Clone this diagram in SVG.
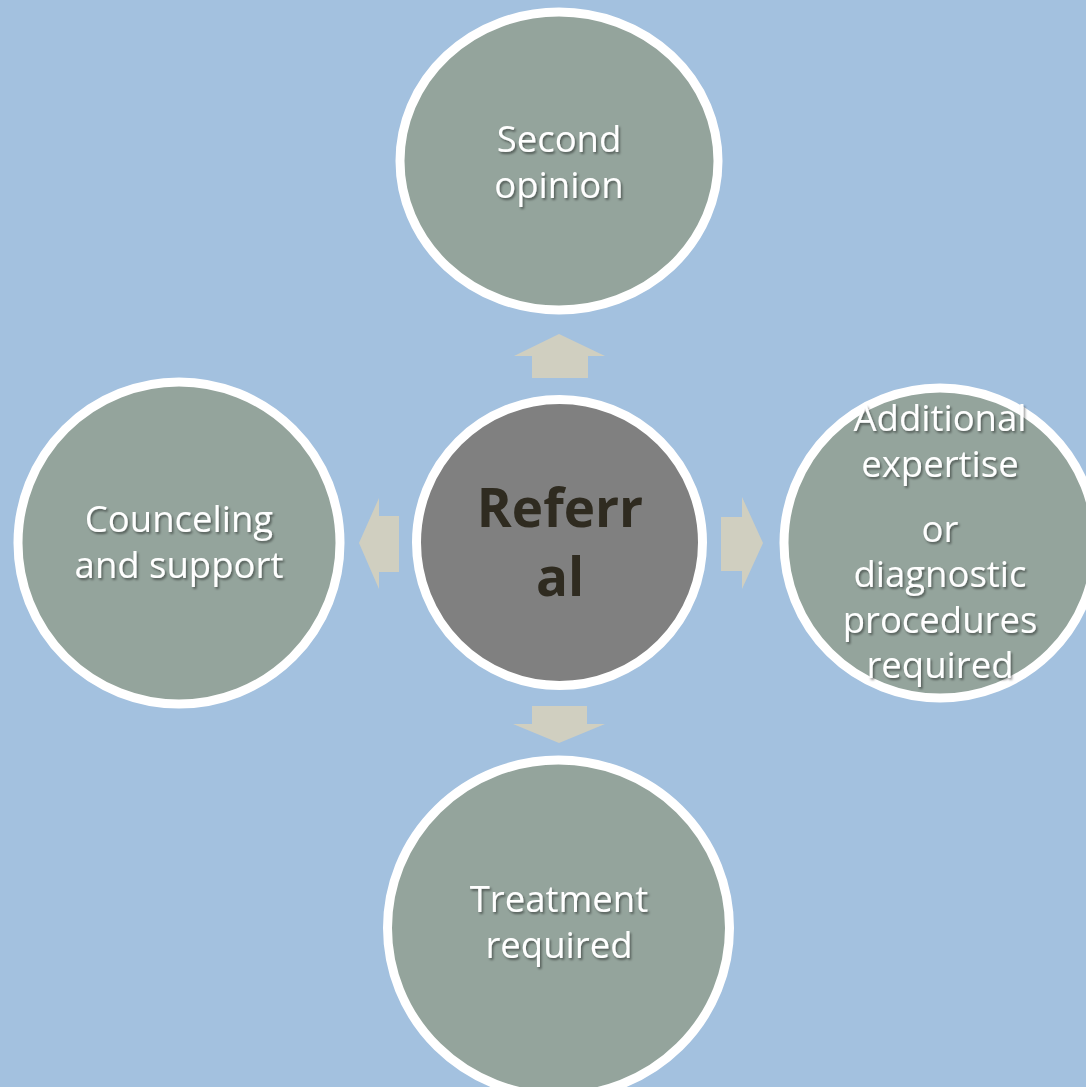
<svg xmlns="http://www.w3.org/2000/svg" width="1086" height="1087" viewBox="0 0 1086 1087">
<defs>
<filter id="sh" x="-20%" y="-20%" width="140%" height="140%">
<feDropShadow dx="1.5" dy="2" stdDeviation="1.2" flood-color="#000" flood-opacity="0.45"/>
</filter>
<style>
.node{fill:#94A49C;stroke:#FFFFFF;stroke-width:9}
.center{fill:#808080;stroke:#FFFFFF;stroke-width:9}
.lbl{font-family:"Open Sans","Noto Sans",sans-serif;font-size:36.5px;fill:#FFFFFF;text-anchor:middle;filter:url(#sh)}
.main{font-family:"Open Sans","Noto Sans",sans-serif;font-size:53px;font-weight:bold;fill:#2F2B20;text-anchor:middle}
.arrow{fill:#D0CFC0}
</style>
</defs>
<rect x="0" y="0" width="1086" height="1087" fill="#A3C1DF"/>
<g id="connectors">
<polygon class="arrow" points="559,334 605,356 588,356 588,378 532,378 532,356 514,356"/>
<polygon class="arrow" points="359,543 379,498 379,516 399,516 399,572 379,572 379,589"/>
<polygon class="arrow" points="763,543 742,497 742,517 721,517 721,571 742,571 742,589"/>
<polygon class="arrow" points="559,743 513,724 532,724 532,706 587,706 587,724 605,724"/>
</g>
<g id="node-second-opinion">
<ellipse class="node" cx="559" cy="161" rx="159" ry="149"/>
<text class="lbl" x="559" y="152">Second</text>
<text class="lbl" x="559" y="198">opinion</text>
</g>
<g id="node-counceling">
<circle class="node" cx="179" cy="543" r="161"/>
<text class="lbl" x="179" y="532">Counceling</text>
<text class="lbl" x="179" y="578">and support</text>
</g>
<g id="node-treatment">
<ellipse class="node" cx="558.5" cy="928" rx="171" ry="168"/>
<text class="lbl" x="559" y="912">Treatment</text>
<text class="lbl" x="559" y="958">required</text>
</g>
<g id="node-additional">
<ellipse class="node" cx="940" cy="543" rx="156" ry="155"/>
<text class="lbl" x="940" y="431">Additional</text>
<text class="lbl" x="940" y="477">expertise</text>
<text class="lbl" x="940" y="542">or</text>
<text class="lbl" x="940" y="587">diagnostic</text>
<text class="lbl" x="940" y="633">procedures</text>
<text class="lbl" x="940" y="678">required</text>
</g>
<g id="node-referral">
<circle class="center" cx="559.5" cy="542.5" r="143"/>
<text class="main" x="560" y="527">Referr</text>
<text class="main" x="560" y="596">al</text>
</g>
</svg>
